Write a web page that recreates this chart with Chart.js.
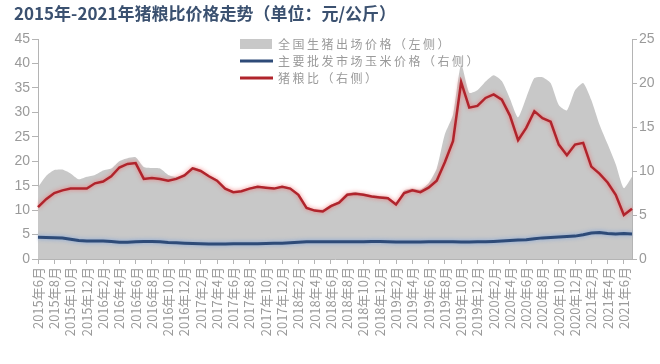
<!DOCTYPE html>
<html>
<head>
<meta charset="utf-8">
<script src="https://cdn.jsdelivr.net/npm/chart.js@4.4.1/dist/chart.umd.min.js"></script>
<style>
  body { margin: 0; background: #fff; }
  canvas { display: block; }
</style>
</head>
<body>
<canvas id="chart" width="660" height="364"></canvas>
<script>
// 月份（2015年6月 - 2021年7月）
const months = [
  "2015年6月", "2015年7月", "2015年8月", "2015年9月", "2015年10月", "2015年11月", "2015年12月",
  "2016年1月", "2016年2月", "2016年3月", "2016年4月", "2016年5月", "2016年6月", "2016年7月",
  "2016年8月", "2016年9月", "2016年10月", "2016年11月", "2016年12月",
  "2017年1月", "2017年2月", "2017年3月", "2017年4月", "2017年5月", "2017年6月", "2017年7月",
  "2017年8月", "2017年9月", "2017年10月", "2017年11月", "2017年12月",
  "2018年1月", "2018年2月", "2018年3月", "2018年4月", "2018年5月", "2018年6月", "2018年7月",
  "2018年8月", "2018年9月", "2018年10月", "2018年11月", "2018年12月",
  "2019年1月", "2019年2月", "2019年3月", "2019年4月", "2019年5月", "2019年6月", "2019年7月",
  "2019年8月", "2019年9月", "2019年10月", "2019年11月", "2019年12月",
  "2020年1月", "2020年2月", "2020年3月", "2020年4月", "2020年5月", "2020年6月", "2020年7月",
  "2020年8月", "2020年9月", "2020年10月", "2020年11月", "2020年12月",
  "2021年1月", "2021年2月", "2021年3月", "2021年4月", "2021年5月", "2021年6月", "2021年7月"
];

// 全国生猪出场价格（左侧，元/公斤）
const hogPrice = [
  14.7, 17.0, 18.2, 18.3, 17.5, 16.3, 16.8,
  17.2, 18.1, 18.5, 20.0, 20.6, 20.8, 18.8,
  18.6, 18.5, 17.2, 16.8, 17.4,
  18.8, 18.2, 17.2, 16.3, 14.6, 13.9, 14.0,
  14.6, 15.0, 14.8, 14.6, 15.0,
  14.6, 13.3, 10.8, 10.2, 10.1, 11.1, 11.8,
  13.4, 13.7, 13.4, 13.1, 12.9,
  12.7, 11.5, 14.0, 14.4, 14.2, 15.5, 18.5,
  25.5, 29.5, 39.8, 34.0, 34.5,
  36.3, 37.6, 36.4, 32.8, 29.0, 33.0, 37.0,
  37.2, 36.0, 31.5, 30.4, 34.5,
  36.0, 32.5, 27.5, 23.5, 19.4, 14.5, 16.8
];

// 主要批发市场玉米价格（右侧，元/公斤）
const cornPrice = [
  2.47, 2.45, 2.42, 2.38, 2.25, 2.10, 2.05,
  2.05, 2.05, 2.00, 1.90, 1.90, 1.95, 2.00,
  2.00, 1.95, 1.88, 1.85, 1.80,
  1.75, 1.72, 1.70, 1.70, 1.70, 1.72, 1.72,
  1.72, 1.72, 1.75, 1.78, 1.80,
  1.85, 1.90, 1.95, 1.95, 1.95, 1.95, 1.95,
  1.95, 1.95, 1.97, 1.98, 1.98,
  1.95, 1.93, 1.93, 1.93, 1.93, 1.95, 1.97,
  1.97, 1.95, 1.93, 1.93, 1.95,
  1.97, 2.00, 2.05, 2.10, 2.15, 2.20, 2.30,
  2.40, 2.45, 2.50, 2.55, 2.60,
  2.75, 2.95, 3.00, 2.90, 2.85, 2.90, 2.85
];

// 猪粮比（右侧）
const hogGrainRatio = [
  5.9, 6.8, 7.5, 7.8, 8.0, 8.0, 8.0,
  8.6, 8.8, 9.4, 10.4, 10.8, 10.9, 9.1,
  9.2, 9.1, 8.9, 9.1, 9.5,
  10.3, 10.0, 9.4, 8.9, 8.0, 7.6, 7.7,
  8.0, 8.2, 8.1, 8.0, 8.2,
  8.0, 7.3, 5.8, 5.5, 5.4, 6.0, 6.4,
  7.3, 7.4, 7.3, 7.1, 7.0,
  6.9, 6.2, 7.5, 7.8, 7.6, 8.1, 8.9,
  11.0, 13.4, 20.1, 17.2, 17.4,
  18.3, 18.7, 18.1, 16.3, 13.5, 14.9, 16.8,
  16.0, 15.6, 13.0, 11.8, 13.0,
  13.2, 10.5, 9.7, 8.7, 7.3, 5.0, 5.7
];

const leftTicks = { min: 0, max: 45, step: 5 };
const rightTicks = { min: 0, max: 25, step: 5 };

const axisGray = "#b4b4b4";
const labelGray = "#9a9a9a";
const cjkFont = "'Noto Sans CJK SC', 'Noto Sans', sans-serif";

// 线条外发光
const haloPlugin = {
  id: "halo",
  beforeDatasetDraw(chart, args) {
    const ds = chart.data.datasets[args.index];
    if (!ds.haloColor) return;
    const ctx = chart.ctx;
    ctx.save();
    ctx.shadowColor = ds.haloColor;
    ctx.shadowBlur = 4;
  },
  afterDatasetDraw(chart, args) {
    const ds = chart.data.datasets[args.index];
    if (ds.haloColor) chart.ctx.restore();
  }
};

// 标题和图例
const titleLegendPlugin = {
  id: "titleLegend",
  afterDraw(chart) {
    const ctx = chart.ctx;
    ctx.save();
    ctx.fillStyle = "#3b5170";
    ctx.font = "bold 17px " + cjkFont;
    ctx.textBaseline = "middle";
    ctx.textAlign = "left";
    ctx.fillText("2015年-2021年猪粮比价格走势（单位：元/公斤）", 14, 14);

    const items = [2, 1, 0].map(i => chart.data.datasets[i]);
    ctx.font = "12px " + cjkFont;
    ctx.letterSpacing = "2.5px";
    items.forEach((ds, k) => {
      const y = 44 + k * 17;
      if (ds.fill) {
        ctx.fillStyle = ds.backgroundColor;
        ctx.fillRect(240, y - 5, 32, 10);
      } else {
        ctx.strokeStyle = ds.borderColor;
        ctx.lineWidth = 3;
        ctx.beginPath();
        ctx.moveTo(240, y);
        ctx.lineTo(273, y);
        ctx.stroke();
      }
      ctx.fillStyle = labelGray;
      ctx.fillText(ds.label, 278, y);
    });
    ctx.restore();
  }
};

new Chart(document.getElementById("chart"), {
  type: "line",
  data: {
    labels: months,
    datasets: [
      {
        label: "猪粮比（右侧）",
        data: hogGrainRatio,
        yAxisID: "yRight",
        borderColor: "#b0242c",
        haloColor: "rgba(240, 110, 110, 0.9)",
        borderWidth: 2.5,
        pointRadius: 0,
        tension: 0,
        fill: false
      },
      {
        label: "主要批发市场玉米价格（右侧）",
        data: cornPrice,
        yAxisID: "yRight",
        borderColor: "#2e4b78",
        haloColor: "rgba(120, 160, 220, 0.9)",
        borderWidth: 3,
        pointRadius: 0,
        tension: 0,
        fill: false
      },
      {
        label: "全国生猪出场价格（左侧）",
        data: hogPrice,
        yAxisID: "yLeft",
        borderWidth: 0,
        borderColor: "#c8c8c8",
        backgroundColor: "#c8c8c8",
        pointRadius: 0,
        tension: 0.2,
        fill: "origin"
      }
    ]
  },
  options: {
    responsive: false,
    animation: false,
    layout: { padding: { top: 39, left: 0, right: 0, bottom: 0 } },
    plugins: {
      legend: { display: false },
      tooltip: { enabled: false }
    },
    scales: {
      x: {
        grid: { drawOnChartArea: false, tickLength: 5, color: axisGray },
        border: { color: axisGray },
        ticks: {
          autoSkip: false,
          minRotation: 90,
          maxRotation: 90,
          padding: 3,
          color: labelGray,
          font: { family: cjkFont, size: 13 },
          callback: function (value, index) {
            return index % 2 === 0 ? this.getLabelForValue(value) : null;
          }
        },
        afterFit: scale => { scale.height = 105; }
      },
      yLeft: {
        position: "left",
        min: leftTicks.min,
        max: leftTicks.max,
        grid: { drawOnChartArea: false, tickLength: 6, color: axisGray },
        border: { color: axisGray },
        ticks: {
          stepSize: leftTicks.step,
          padding: 2,
          color: labelGray,
          font: { family: "'Liberation Sans', Arial, sans-serif", size: 14 }
        },
        afterFit: scale => { scale.width = 38; }
      },
      yRight: {
        position: "right",
        min: rightTicks.min,
        max: rightTicks.max,
        grid: { drawOnChartArea: false, tickLength: 5, color: axisGray },
        border: { color: axisGray },
        ticks: {
          stepSize: rightTicks.step,
          padding: 2,
          color: labelGray,
          font: { family: "'Liberation Sans', Arial, sans-serif", size: 14 }
        },
        afterFit: scale => { scale.width = 28; }
      }
    }
  },
  plugins: [haloPlugin, titleLegendPlugin]
});
</script>
</body>
</html>
